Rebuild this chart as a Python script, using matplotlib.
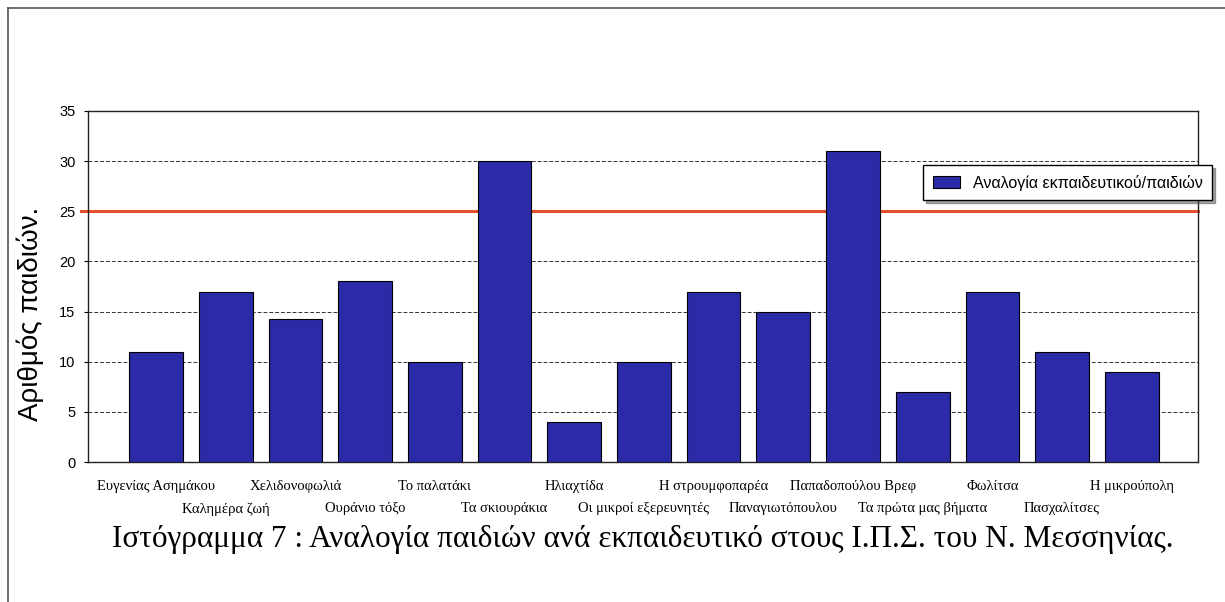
import matplotlib.pyplot as plt
from matplotlib.lines import Line2D

# Data
schools = ["Ευγενίας Ασημάκου", "Καλημέρα ζωή", "Χελιδονοφωλιά", "Ουράνιο τόξο",
           "Το παλατάκι", "Τα σκιουράκια", "Ηλιαχτίδα", "Οι μικροί εξερευνητές",
           "Η στρουμφοπαρέα", "Παναγιωτόπουλου", "Παπαδοπούλου Βρεφ",
           "Τα πρώτα μας βήματα", "Φωλίτσα", "Πασχαλίτσες", "Η μικρούπολη"]
ratio = [11, 17, 14.3, 18, 10, 30, 4, 10, 17, 15, 31, 7, 17, 11, 9]
limit = 25
yticks = [0, 5, 10, 15, 20, 25, 30, 35]

W, H = 1225, 602
fig = plt.figure(figsize=(W / 100, H / 100), dpi=100)
ax = fig.add_axes([88 / W, 1 - 462 / H, (1198 - 88) / W, (462 - 111) / H])

x = list(range(len(schools)))
ax.bar(x, ratio, width=0.77, color="#2b2ba8", edgecolor="black", linewidth=0.8,
       zorder=3, label="Αναλογία εκπαιδευτικού/παιδιών")

# limit line, slightly sticking out to the left like in the scan
ax.axhline(limit, xmin=-0.006, color="#e4502a", linewidth=2.2, zorder=2, clip_on=False)

ax.set_xlim(-0.976, 14.95)
ax.set_ylim(0, 35)
ax.set_yticks(yticks)
ax.set_yticklabels([str(v) for v in yticks], family="Liberation Sans", fontsize=10.5)
ax.yaxis.grid(True, linestyle=(0, (4, 2)), color="#333333", linewidth=0.7, zorder=1)
ax.tick_params(axis="y", length=3, pad=6)

ax.set_xticks(x)
ax.set_xticklabels(schools, family="Liberation Serif", fontsize=10.5)
ax.tick_params(axis="x", length=0)
for i, tick in enumerate(ax.xaxis.get_major_ticks()):
    tick.set_pad(13 if i % 2 == 0 else 29)

for s in ax.spines.values():
    s.set_linewidth(1.0)
    s.set_color("#222222")

fig.text(30 / W, 1 - 314 / H, "Αριθμός παιδιών.", rotation=90, ha="center", va="center",
         family="Liberation Sans", fontsize=20)

leg = ax.legend(loc="upper left", bbox_to_anchor=(923 / W, 1 - 165 / H),
                bbox_transform=fig.transFigure, borderaxespad=0, fancybox=False,
                shadow=True, edgecolor="black", framealpha=1,
                prop={"family": "Liberation Sans", "size": 11.5},
                handlelength=1.7, handleheight=0.7, borderpad=0.6, handletextpad=0.8)
leg.get_frame().set_linewidth(1.0)

fig.text(112 / W, 1 - 540 / H,
         "Ιστόγραμμα 7 : Αναλογία παιδιών ανά εκπαιδευτικό στους Ι.Π.Σ. του Ν. Μεσσηνίας.",
         ha="left", va="center", family="Liberation Serif", fontsize=22.5)

# scanned page border (left and top edges)
fig.add_artist(Line2D([8 / W, 8 / W], [0, 1 - 8 / H], color="#555555", lw=1.2))
fig.add_artist(Line2D([8 / W, 1], [1 - 8 / H, 1 - 8 / H], color="#555555", lw=1.2))

fig.savefig("out.png", dpi=100)
